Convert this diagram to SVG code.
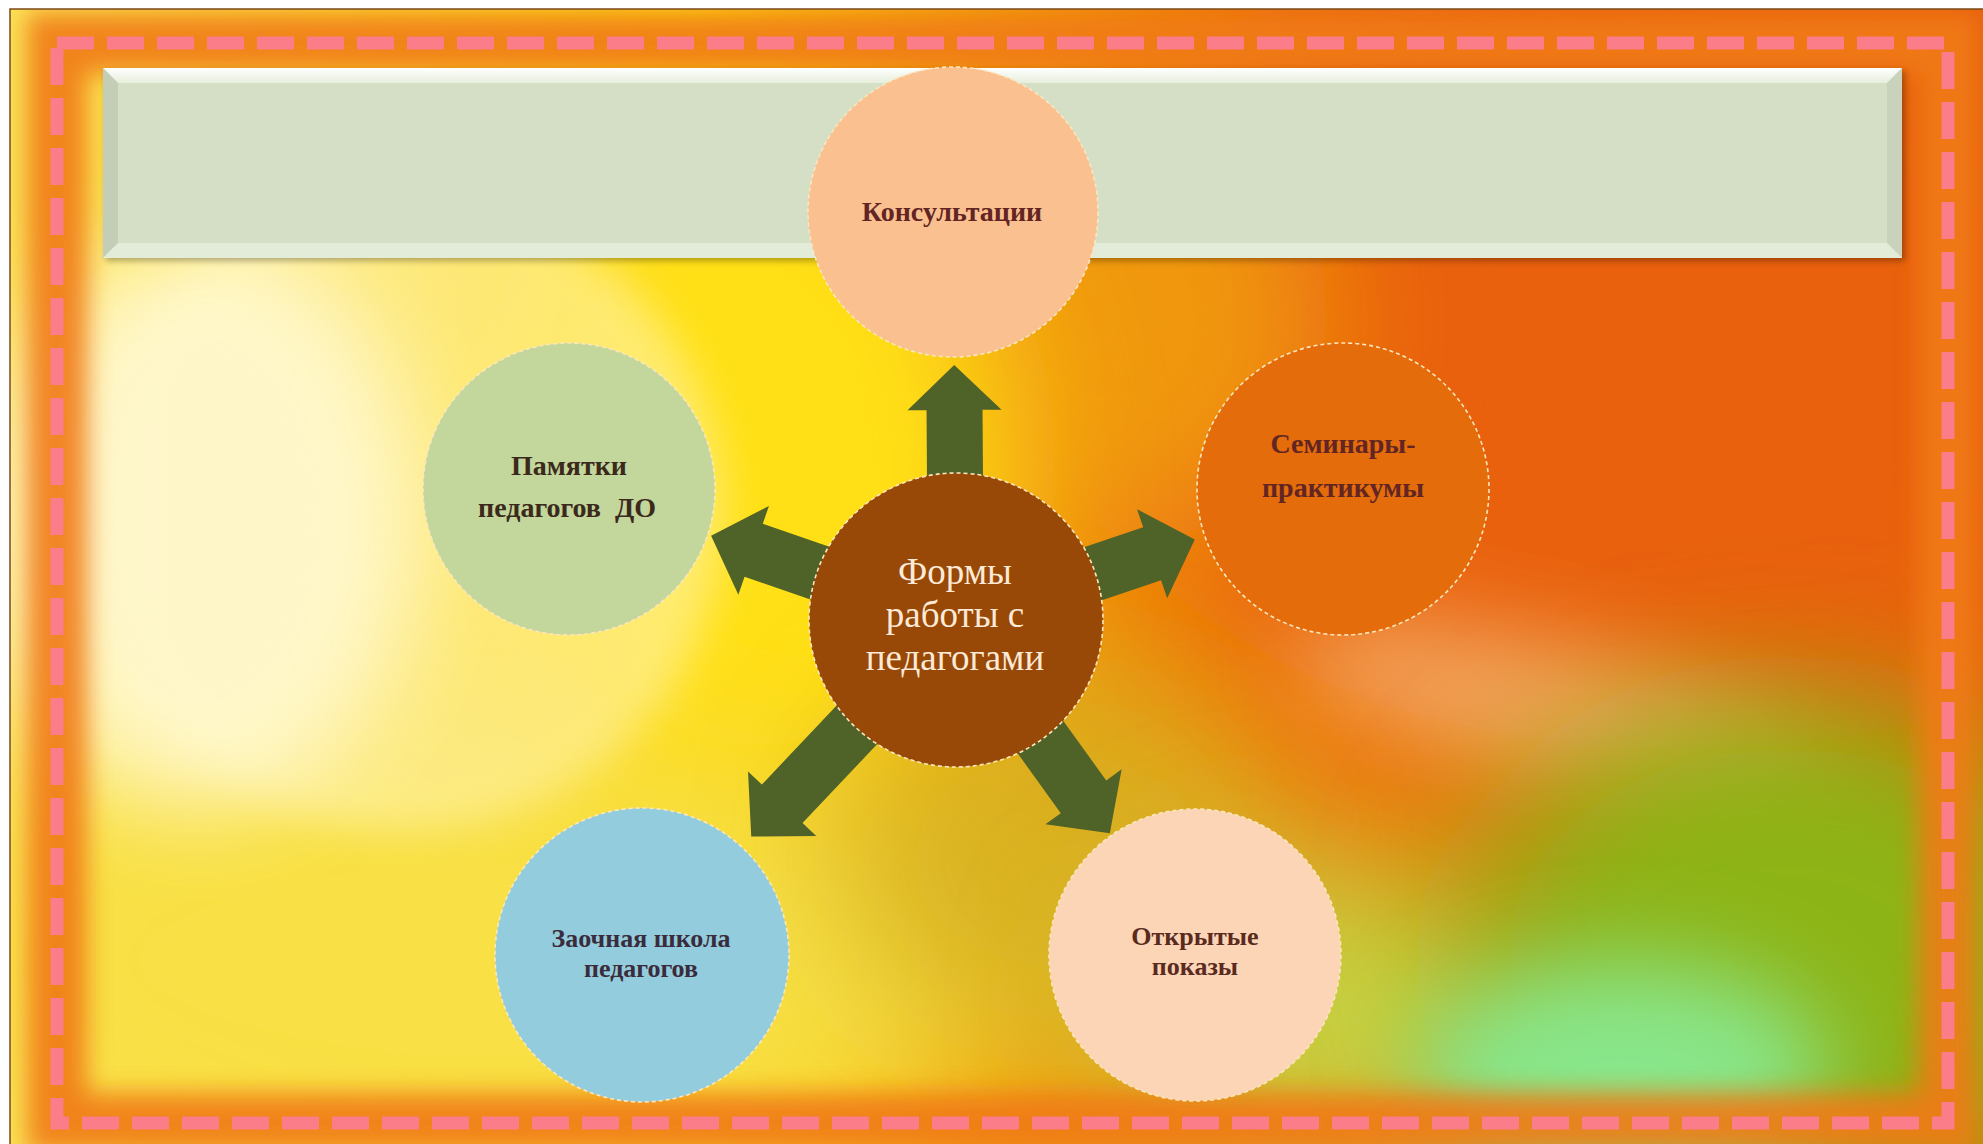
<svg xmlns="http://www.w3.org/2000/svg" width="1983" height="1144" viewBox="0 0 1983 1144">
<defs>
<style>
.lbl{font-family:"Liberation Serif","DejaVu Serif",serif;font-weight:bold;text-anchor:middle;}
.ctr{font-family:"Liberation Serif","DejaVu Serif",serif;font-size:37px;fill:#fdead6;text-anchor:middle;}
.node{stroke:#fbe6bd;stroke-width:1.6;stroke-dasharray:4 3;}
.arrow{fill:#4f6228;}
</style>
<filter id="b100" x="-60%" y="-60%" width="220%" height="220%"><feGaussianBlur stdDeviation="100"/></filter>
<filter id="b70" x="-60%" y="-60%" width="220%" height="220%"><feGaussianBlur stdDeviation="70"/></filter>
<filter id="b45" x="-60%" y="-60%" width="220%" height="220%"><feGaussianBlur stdDeviation="45"/></filter>
<filter id="b20" x="-30%" y="-30%" width="160%" height="160%"><feGaussianBlur stdDeviation="20"/></filter>
<filter id="b12" x="-10%" y="-10%" width="120%" height="120%"><feGaussianBlur stdDeviation="12"/></filter>
<filter id="b3" x="-5%" y="-20%" width="110%" height="140%"><feGaussianBlur stdDeviation="3"/></filter>
<linearGradient id="base" x1="0" y1="0" x2="1" y2="0">
<stop offset="0" stop-color="#fbe45a"/>
<stop offset="0.35" stop-color="#fcd412"/>
<stop offset="0.5" stop-color="#f3a40c"/>
<stop offset="0.65" stop-color="#ee7a0a"/>
<stop offset="1" stop-color="#ea6206"/>
</linearGradient>
<linearGradient id="topbev" x1="0" y1="0" x2="0" y2="1">
<stop offset="0" stop-color="#ffffff"/>
<stop offset="1" stop-color="#e6eedb"/>
</linearGradient>
</defs>

<g id="background">
<rect x="0" y="0" width="1983" height="1144" fill="url(#base)"/>
<ellipse cx="1680" cy="330" rx="650" ry="420" fill="#e9600a" filter="url(#b100)"/>
<ellipse cx="1100" cy="320" rx="230" ry="230" fill="#f0980c" filter="url(#b70)"/>
<ellipse cx="760" cy="470" rx="250" ry="330" fill="#ffe012" filter="url(#b70)"/>
<ellipse cx="500" cy="960" rx="520" ry="220" fill="#f8e044" filter="url(#b70)"/>
<ellipse cx="1060" cy="860" rx="230" ry="190" fill="#d6b222" opacity="0.85" filter="url(#b70)"/>
<ellipse cx="1320" cy="1010" rx="220" ry="150" fill="#c8d040" filter="url(#b70)"/>
<ellipse cx="1560" cy="715" rx="280" ry="70" fill="#f5bb7a" opacity="0.7" transform="rotate(14 1560 715)" filter="url(#b45)"/>
<ellipse cx="1790" cy="960" rx="330" ry="260" fill="#8db418" filter="url(#b70)"/>
<ellipse cx="1620" cy="1070" rx="210" ry="110" fill="#88e68a" filter="url(#b45)"/>
<circle cx="404" cy="512" r="320" fill="#fff5b8" opacity="0.55" filter="url(#b20)"/>
<ellipse cx="200" cy="520" rx="220" ry="290" fill="#fff9d6" opacity="0.85" filter="url(#b45)"/>
<rect x="57" y="43" width="1891" height="1080" fill="none" stroke="#f07a14" stroke-width="60" opacity="0.9" filter="url(#b12)"/>
<rect x="57" y="43" width="1891" height="1080" fill="none" stroke="#fb7d8a" stroke-width="13" stroke-dasharray="37 13"/>
<rect x="0" y="0" width="1983" height="9" fill="#ffffff"/>
<rect x="0" y="0" width="10" height="1144" fill="#ffffff"/>
<path d="M10,1144 V9 H1983" fill="none" stroke="#7a4a1a" stroke-width="1.5"/>
</g>

<g id="banner">
<rect x="106" y="71" width="1799" height="190" fill="#000" opacity="0.3" filter="url(#b3)"/>
<rect x="103" y="68" width="1799" height="190" fill="#d4dfc6"/>
<polygon points="103,68 1902,68 1887,83 118,83" fill="url(#topbev)"/>
<polygon points="103,68 118,83 118,243 103,258" fill="#c4cdb5"/>
<polygon points="1902,68 1902,258 1887,243 1887,83" fill="#c9d3bc"/>
<polygon points="103,258 1902,258 1887,243 118,243" fill="#e2ecd8"/>
</g>

<g id="connectors">
<path class="arrow" transform="translate(956,620) rotate(-90.4)" d="M100,-28 L210,-28 L210,-47 L255,0 L210,47 L210,28 L100,28 Z"/>
<path class="arrow" transform="translate(956,620) rotate(-18.65)" d="M100,-28 L207,-28 L207,-47 L252,0 L207,47 L207,28 L100,28 Z"/>
<path class="arrow" transform="translate(956,620) rotate(199)" d="M100,-28 L214,-28 L214,-47 L259,0 L214,47 L214,28 L100,28 Z"/>
<path class="arrow" transform="translate(956,620) rotate(54.2)" d="M100,-28 L218,-28 L218,-47 L263,0 L218,47 L218,28 L100,28 Z"/>
<path class="arrow" transform="translate(956,620) rotate(133.4)" d="M100,-28 L253,-28 L253,-47 L298,0 L253,47 L253,28 L100,28 Z"/>
</g>

<g id="node-konsultacii">
<circle class="node" cx="953" cy="212" r="145" fill="#fac090"/>
<text class="lbl" x="952" y="221" font-size="28" fill="#632523">Консультации</text>
</g>

<g id="node-pamyatki">
<circle class="node" cx="569" cy="489" r="146" fill="#c3d69b"/>
<text class="lbl" font-size="28" fill="#3b2a1c" style="white-space:pre"><tspan x="569" y="475">Памятки</tspan><tspan x="567" y="517">педагогов  ДО</tspan></text>
</g>

<g id="node-seminary">
<circle class="node" cx="1343" cy="489" r="146" fill="#e46c0a"/>
<text class="lbl" font-size="28" fill="#632523"><tspan x="1343" y="453">Семинары-</tspan><tspan x="1343" y="497">практикумы</tspan></text>
</g>

<g id="node-zaochnaya">
<circle class="node" cx="642" cy="955" r="147" fill="#93cddd"/>
<text class="lbl" font-size="26" fill="#3a2c3c"><tspan x="641" y="947">Заочная школа</tspan><tspan x="641" y="977">педагогов</tspan></text>
</g>

<g id="node-otkrytye">
<circle class="node" cx="1195" cy="955" r="146" fill="#fbd5b5"/>
<text class="lbl" font-size="26" fill="#5a2a1e"><tspan x="1195" y="945">Открытые</tspan><tspan x="1195" y="975">показы</tspan></text>
</g>

<g id="node-center">
<circle class="node" cx="956" cy="620" r="147" fill="#984807"/>
<text class="ctr"><tspan x="955" y="584">Формы</tspan><tspan x="955" y="627">работы с</tspan><tspan x="955" y="670">педагогами</tspan></text>
</g>
</svg>
